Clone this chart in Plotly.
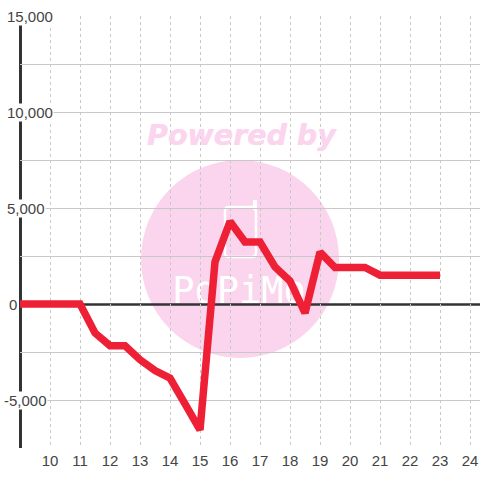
import plotly.graph_objects as go

x_values = [9, 9.5, 10, 10.5, 11, 11.5, 12, 12.5, 13, 13.5, 14, 14.5, 15, 15.5, 16, 16.5,
            17, 17.5, 18, 18.5, 19, 19.5, 20, 20.5, 21, 21.5, 22, 22.5, 23]
y_values = [0, 0, 0, 0, 0, -1510, -2170, -2170, -2900, -3470, -3860, -5200, -6560, 2190, 4300, 3230,
            3230, 1930, 1200, -470, 2700, 1900, 1900, 1900, 1500, 1500, 1500, 1500, 1500]
x_ticks = list(range(10, 25))
y_major = [15000, 10000, 5000, 0, -5000]
y_labels = ["15,000", "10,000", "5,000", "0", "-5,000"]
y_label_x = [6, 6, 6, 8, 3]
y_grid = [15000, 12500, 10000, 7500, 5000, 2500, -2500, -5000, -7500]

W, H = 480, 480
L, R, T, B = 20, 0, 16, 32
pw, ph = W - L - R, H - T - B
X_MIN, X_MAX = 9, 9 + pw / 30
Y_MIN, Y_MAX = -7500, 15000


def px(v):
    return (v - L) / pw


def py(v):
    return 1 - (v - T) / ph


def rounded_rect(x0, y0, x1, y1, r):
    a, b, c, d = px(x0), px(x1), py(y0), py(y1)
    rx, ry = r / pw, r / ph
    return (f"M{a + rx},{c} L{b - rx},{c} Q{b},{c} {b},{c - ry} L{b},{d + ry} Q{b},{d} {b - rx},{d} "
            f"L{a + rx},{d} Q{a},{d} {a},{d + ry} L{a},{c - ry} Q{a},{c} {a + rx},{c} Z")


PINK = "#FBD5EE"
AXIS = "#333333"
shapes = [
    dict(type="circle", xref="paper", yref="paper", layer="below", line_width=0, fillcolor=PINK,
         x0=px(141), x1=px(339), y0=py(358), y1=py(160)),
    dict(type="path", xref="paper", yref="paper", layer="below", line=dict(color="white", width=2.5),
         fillcolor="rgba(0,0,0,0)", path=rounded_rect(225, 207, 256, 257, 4)),
    dict(type="line", xref="paper", yref="paper", layer="below", line=dict(color="white", width=4),
         x0=px(255), x1=px(255), y0=py(210), y1=py(200)),
    dict(type="rect", xref="paper", yref="paper", layer="below", line_width=0, fillcolor="rgba(0,0,0,0)",
         x0=px(169), x1=px(309), y0=py(271), y1=py(303),
         label=dict(text="PoPiMo", textposition="middle center",
                    font=dict(family="DejaVu Sans Mono", size=37, color="white"))),
    dict(type="line", xref="paper", yref="paper", layer="between", line=dict(color=AXIS, width=3),
         x0=px(20.5), x1=px(20.5), y0=0, y1=1),
    dict(type="line", xref="paper", yref="paper", layer="between", line=dict(color=AXIS, width=2.5),
         x0=px(20.5), x1=1, y0=py(304.5), y1=py(304.5)),
]

annotations = [
    dict(xref="paper", yref="paper", x=px(241.5), y=py(135), text="<b><i>Powered by</i></b>", showarrow=False,
         font=dict(family="DejaVu Sans", size=28.5, color=PINK, shadow="0 0 1px #FBD5EE"),
         xanchor="center", yanchor="middle"),
]
for value, label, lx in zip(y_major, y_labels, y_label_x):
    annotations.append(dict(xref="paper", yref="y", x=px(lx), y=value, text=label, showarrow=False,
                            xanchor="left", yanchor="middle", bgcolor="white", borderpad=0,
                            font=dict(family="Liberation Sans", size=15, color="#444444")))

fig = go.Figure(go.Scatter(x=x_values, y=y_values, mode="lines", cliponaxis=False,
                           line=dict(color="#EE2035", width=7.5)))
fig.update_layout(
    width=W, height=H, autosize=False, margin=dict(l=L, r=R, t=T, b=B, pad=0),
    paper_bgcolor="white", plot_bgcolor="white", showlegend=False,
    shapes=shapes, annotations=annotations,
)
fig.update_xaxes(range=[X_MIN, X_MAX], tickmode="array", tickvals=x_ticks, ticktext=[str(t) for t in x_ticks],
                 showgrid=True, gridcolor="#C8C8C8", griddash="dot", gridwidth=1, zeroline=False,
                 showline=False, ticks="", ticklabelstandoff=2,
                 tickfont=dict(family="Liberation Sans", size=15, color="#444444"))
fig.update_yaxes(range=[Y_MIN, Y_MAX], tickmode="array", tickvals=y_grid,
                 showticklabels=False, showgrid=True, gridcolor="#C8C8C8", gridwidth=1,
                 zeroline=False, showline=False, ticks="")
fig.write_html("out.html", config={"displayModeBar": False},
               post_script="document.body.style.margin='0';document.documentElement.style.overflow='hidden';")
